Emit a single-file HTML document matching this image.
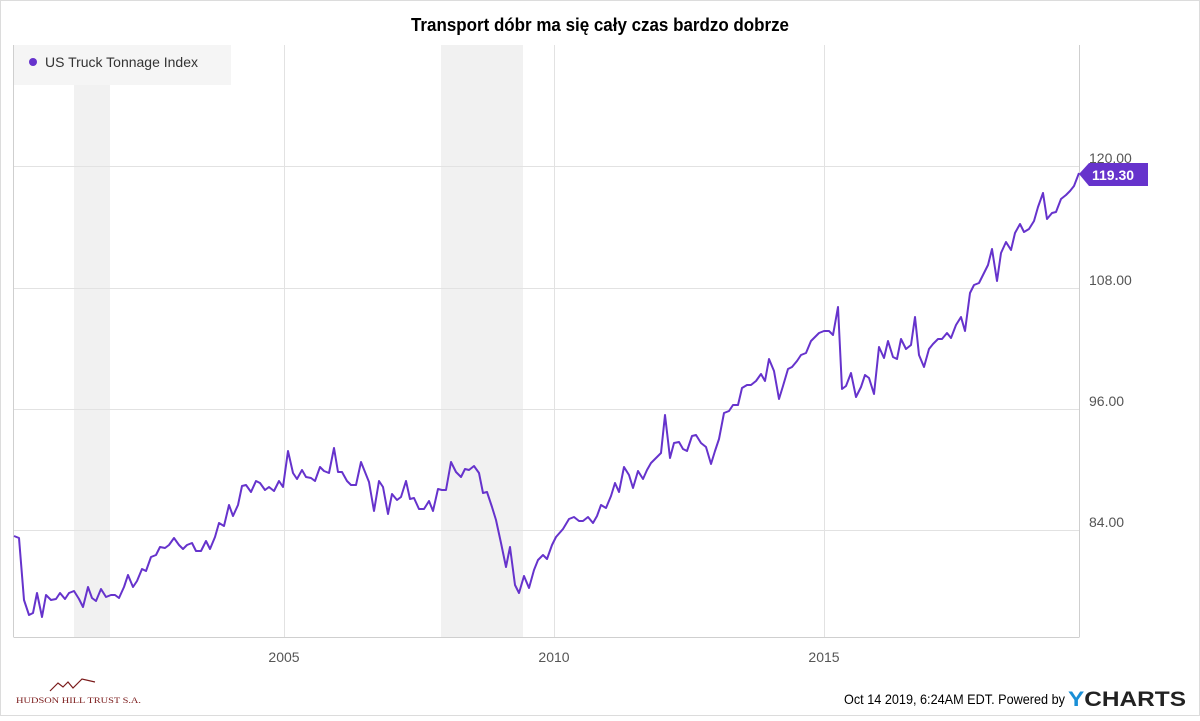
<!DOCTYPE html>
<html><head><meta charset="utf-8"><style>
html,body{margin:0;padding:0;background:#fff;}
body{width:1200px;height:716px;overflow:hidden;font-family:"Liberation Sans",sans-serif;}
</style></head><body>
<svg width="1200" height="716" viewBox="0 0 1200 716" xmlns="http://www.w3.org/2000/svg" font-family="Liberation Sans, sans-serif">
<rect x="0.5" y="0.5" width="1199" height="715" fill="#fff" stroke="#dcdcdc"/>
<text x="600" y="31" text-anchor="middle" font-size="18" font-weight="bold" fill="#000" textLength="378" lengthAdjust="spacingAndGlyphs">Transport dóbr ma się cały czas bardzo dobrze</text>
<rect x="74" y="45" width="36" height="592" fill="#f1f1f1"/>
<rect x="441" y="45" width="82" height="592" fill="#f1f1f1"/>
<g stroke="#e2e2e2" stroke-width="1">
<line x1="14" y1="166.5" x2="1079" y2="166.5"/>
<line x1="14" y1="288.5" x2="1079" y2="288.5"/>
<line x1="14" y1="409.5" x2="1079" y2="409.5"/>
<line x1="14" y1="530.5" x2="1079" y2="530.5"/>
<line x1="284.5" y1="45" x2="284.5" y2="637"/>
<line x1="554.5" y1="45" x2="554.5" y2="637"/>
<line x1="824.5" y1="45" x2="824.5" y2="637"/>
</g>
<g stroke="#cfcfcf" stroke-width="1">
<line x1="13.5" y1="45" x2="13.5" y2="637"/>
<line x1="1079.5" y1="45" x2="1079.5" y2="637"/>
<line x1="13.5" y1="637.5" x2="1079.5" y2="637.5"/>
</g>
<rect x="14" y="45" width="217" height="40" fill="#f5f5f5"/>
<circle cx="33" cy="62" r="4" fill="#6633cc"/>
<text x="45" y="67" font-size="14" fill="#333" textLength="153" lengthAdjust="spacingAndGlyphs">US Truck Tonnage Index</text>
<polyline fill="none" stroke="#6633cc" stroke-width="2" stroke-linejoin="round" points="14,536 19,538 24,600 29,615 33,613 37,593 42,617 46,595 51,600 56,599 60,593 65,599 69,593 74,591 79,599 83,607 88,587 92,598 96,601 101,589 106,597 111,595 115,595 119,598 124,587 128,575 133,587 137,581 142,569 146,571 151,557 156,555 160,547 165,548 169,545 174,538 179,545 183,549 187,545 192,543 196,551 201,551 206,541 210,549 215,537 219,523 224,526 229,505 233,516 238,505 242,486 246,485 251,492 256,481 260,483 265,490 269,487 274,491 279,481 283,487 288,451 293,473 297,479 302,470 306,477 311,478 315,481 320,467 324,471 329,473 334,448 338,472 342,472 347,481 351,485 356,485 361,462 365,472 369,482 374,511 379,481 383,487 388,514 392,494 397,500 401,497 406,481 410,499 414,498 419,509 424,509 429,501 433,511 438,489 442,490 446,490 451,462 456,472 461,477 465,469 469,470 474,466 479,473 483,493 487,492 492,507 496,520 501,543 506,567 510,547 515,585 519,593 524,576 529,588 534,570 538,560 543,555 547,559 552,545 556,537 563,529 569,519 574,517 579,521 583,521 588,517 593,523 597,516 601,505 606,508 611,496 615,483 619,492 624,467 629,475 633,488 638,471 643,479 647,470 651,463 656,458 661,453 665,415 670,458 674,443 679,442 683,449 687,451 692,436 696,435 701,443 706,447 711,464 715,451 719,439 724,413 729,411 733,405 738,405 742,388 747,385 751,385 756,381 761,374 765,381 769,359 774,371 779,399 783,386 788,369 792,367 797,361 801,355 806,353 811,341 815,337 819,333 824,331 829,331 833,335 838,307 842,389 846,386 851,373 856,397 861,387 865,375 869,378 874,394 879,347 884,358 888,341 893,357 897,359 901,339 906,349 911,345 915,317 919,355 924,367 929,349 933,344 938,339 942,339 947,333 951,338 956,325 961,317 965,331 970,293 974,285 979,283 983,275 988,265 992,249 997,281 1001,253 1006,242 1011,250 1015,233 1020,224 1024,232 1029,229 1034,221 1038,207 1043,193 1047,219 1052,213 1056,212 1061,199 1066,195 1070,191 1074,186 1079,173"/>
<g font-size="14" fill="#555">
<text x="1089" y="163">120.00</text>
<text x="1089" y="285">108.00</text>
<text x="1089" y="406">96.00</text>
<text x="1089" y="527">84.00</text>
<text x="284" y="662" text-anchor="middle">2005</text>
<text x="554" y="662" text-anchor="middle">2010</text>
<text x="824" y="662" text-anchor="middle">2015</text>
</g>
<polygon points="1079,174 1089,163 1148,163 1148,186 1089,186" fill="#6633cc"/>
<text x="1092" y="180" font-size="14" font-weight="bold" fill="#fff">119.30</text>
<polyline fill="none" stroke="#7a1a1a" stroke-width="1.2" points="50,691 58,683 63,687 68,682 73,688 82,679 95,682"/>
<text x="16" y="703" font-size="8.5" fill="#7a1a1a" font-family="Liberation Serif, serif" textLength="125" lengthAdjust="spacingAndGlyphs">HUDSON HILL TRUST S.A.</text>
<text x="844" y="704" font-size="14" fill="#000" textLength="221" lengthAdjust="spacingAndGlyphs">Oct 14 2019, 6:24AM EDT.  Powered by</text>
<text x="1068" y="706" font-size="21" font-weight="bold" fill="#222" textLength="118" lengthAdjust="spacingAndGlyphs"><tspan fill="#1a8fd6">Y</tspan>CHARTS</text>
</svg>
</body></html>
